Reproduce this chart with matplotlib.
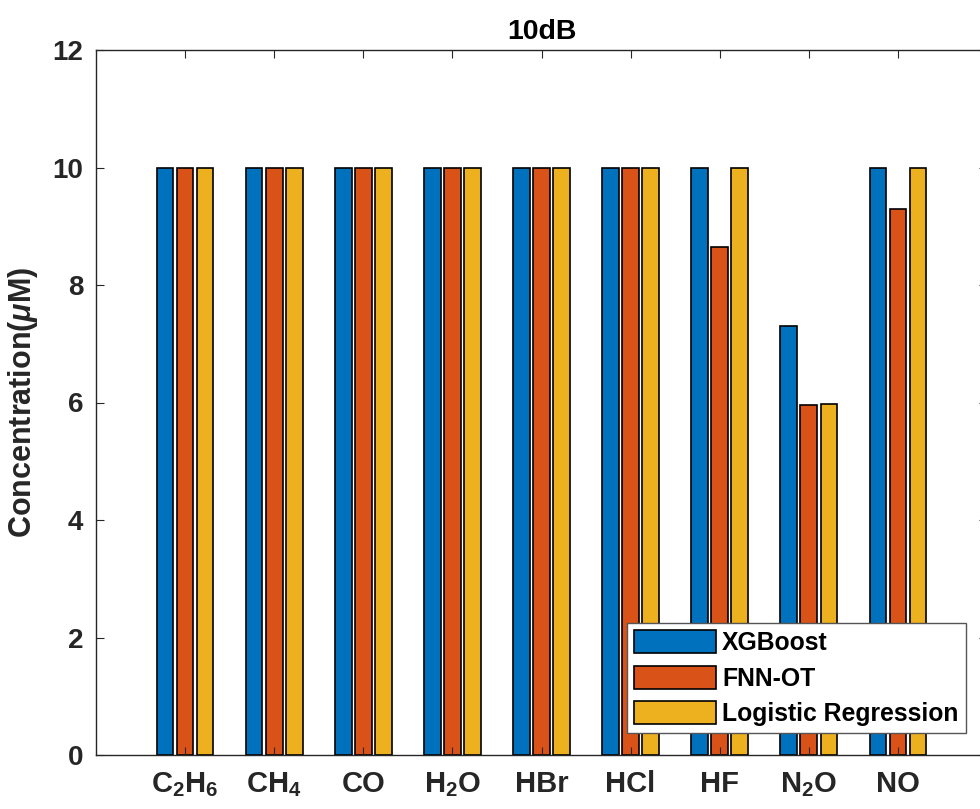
import numpy as np
import matplotlib
matplotlib.use('Agg')
import matplotlib.pyplot as plt

plt.rcParams['font.family'] = ['Liberation Sans', 'DejaVu Sans']
plt.rcParams['font.weight'] = 'bold'
plt.rcParams['mathtext.fontset'] = 'custom'
plt.rcParams['mathtext.rm'] = 'Liberation Sans:bold'
plt.rcParams['mathtext.it'] = 'Liberation Sans:bold:italic'
plt.rcParams['mathtext.bf'] = 'Liberation Sans:bold'

# data
gases = [r'$\mathrm{C_2H_6}$', r'$\mathrm{CH_4}$', 'CO', r'$\mathrm{H_2O}$', 'HBr',
         'HCl', 'HF', r'$\mathrm{N_2O}$', 'NO']
xgboost = [10, 10, 10, 10, 10, 10, 10, 7.3, 10]
fnn_ot = [10, 10, 10, 10, 10, 10, 8.64, 5.96, 9.29]
logreg = [10, 10, 10, 10, 10, 10, 10, 5.98, 10]
series_names = ['XGBoost', 'FNN-OT', 'Logistic Regression']
colors = ['#0072BD', '#D95319', '#EDB120']

fig = plt.figure(figsize=(9.8, 8.09), dpi=100)
ax = fig.add_axes([96/980, 54/809, 891/980, 705/809])

x = np.arange(1, len(gases) + 1)
w = 0.187
off = 0.225
for i, (vals, name, c) in enumerate(zip([xgboost, fnn_ot, logreg], series_names, colors)):
    ax.bar(x + (i - 1) * off, vals, width=w, color=c, edgecolor='black',
           linewidth=1.2, label=name)

ax.set_xlim(0, 10)
ax.set_ylim(0, 12)
ax.set_xticks(x)
ax.set_xticklabels(gases)
ax.set_yticks(np.arange(0, 13, 2))

tc = '#262626'
ax.tick_params(axis='both', direction='in', top=True, right=True, length=6,
               width=0.8, color=tc, labelcolor=tc)
ax.tick_params(axis='x', pad=11, labelsize=21)
ax.tick_params(axis='y', pad=9, labelsize=20)
for s in ax.spines.values():
    s.set_color(tc)
    s.set_linewidth(1.0)

ax.set_title('10dB', fontsize=20.5, fontweight='bold', pad=8)
ax.set_ylabel(r'Concentration($\mu$M)', fontsize=22, fontweight='bold', color=tc, labelpad=9)

leg = ax.legend(loc='upper left', bbox_to_anchor=(627/980, 1 - 623/809),
                bbox_transform=fig.transFigure, borderaxespad=0, fontsize=17.8,
                fancybox=False, framealpha=1, edgecolor='#555555',
                handlelength=3.3, handleheight=1.05, handletextpad=0.25,
                labelspacing=0.42, borderpad=0.3)
leg.get_frame().set_linewidth(1.0)

fig.savefig('out.png', dpi=100)
